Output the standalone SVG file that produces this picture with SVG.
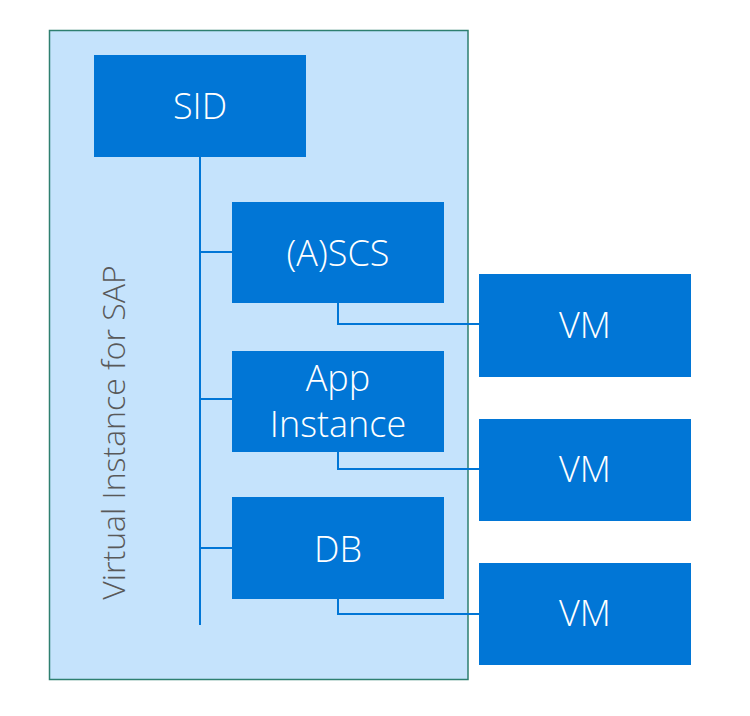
<svg xmlns="http://www.w3.org/2000/svg" width="750" height="716" viewBox="0 0 750 716">
<style>
.box{fill:#0176D6;}
.lbl{font-family:"Open Sans","Noto Sans","Liberation Sans",sans-serif;font-size:36px;font-weight:300;fill:#FFFFFF;text-anchor:middle;}
.conn{fill:none;stroke:#0176D6;stroke-width:2;}
</style>
<rect x="0" y="0" width="750" height="716" fill="#FFFFFF"/>
<g id="container">
<rect x="49.5" y="30.5" width="418.5" height="649" fill="#C5E3FC" stroke="#2E7F70" stroke-width="1.5"/>
<text transform="translate(125,432.5) rotate(-90)" text-anchor="middle" font-family="'Open Sans','Noto Sans','Liberation Sans',sans-serif" font-size="32" font-weight="300" fill="#595959">Virtual Instance for SAP</text>
</g>
<g id="connectors">
<path class="conn" d="M200,157 V625"/>
<path class="conn" d="M200,252 H232"/>
<path class="conn" d="M200,399 H232"/>
<path class="conn" d="M200,548 H232"/>
<path class="conn" d="M338,302 V324 H479"/>
<path class="conn" d="M338,451 V469 H479"/>
<path class="conn" d="M338,599 V614 H479"/>
</g>
<g id="sid">
<rect class="box" x="94" y="55" width="212" height="102"/>
<text class="lbl" x="200" y="119">SID</text>
</g>
<g id="ascs">
<rect class="box" x="232" y="202" width="212" height="101"/>
<text class="lbl" x="338" y="266">(A)SCS</text>
</g>
<g id="app">
<rect class="box" x="232" y="351" width="212" height="101"/>
<text class="lbl" x="338" y="391"><tspan x="338" y="391">App</tspan><tspan x="338" y="437">Instance</tspan></text>
</g>
<g id="db">
<rect class="box" x="232" y="497" width="212" height="102"/>
<text class="lbl" x="338" y="562">DB</text>
</g>
<g id="vm1">
<rect class="box" x="479" y="274" width="212" height="103"/>
<text class="lbl" x="585" y="338">VM</text>
</g>
<g id="vm2">
<rect class="box" x="479" y="419" width="212" height="102"/>
<text class="lbl" x="585" y="482">VM</text>
</g>
<g id="vm3">
<rect class="box" x="479" y="563" width="212" height="102"/>
<text class="lbl" x="585" y="626">VM</text>
</g>
</svg>
